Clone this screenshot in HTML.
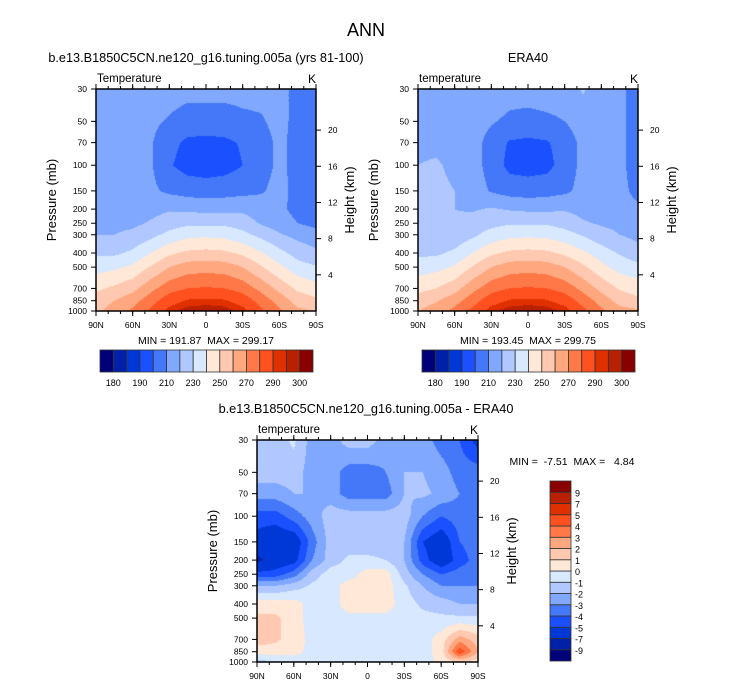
<!DOCTYPE html>
<html><head><meta charset="utf-8">
<style>
body{margin:0;background:#fff;font-family:"Liberation Sans",sans-serif;}
#root{position:relative;width:733px;height:686px;overflow:hidden;}
svg text{font-family:"Liberation Sans",sans-serif;white-space:pre;}
</style></head><body>
<div id="root">
<svg id="svg" width="733" height="686" xmlns="http://www.w3.org/2000/svg"></svg>
</div>
<script>
const lats=[90,75,60,45,30,15,0,-15,-30,-45,-60,-75,-90];
const plevs=[30,50,70,100,150,200,250,300,400,500,700,850,1000];
const tLevels=[180,185,190,200,210,220,230,240,250,260,270,280,290,295,300];
const tLabels=["180","190","210","230","250","270","290","300"];
const tLabelIdx=[0,2,4,6,8,10,12,14];
const dLevels=[-9,-7,-5,-4,-3,-2,-1,0,1,2,3,4,5,7,9];
const dLabels=["-9","-7","-5","-4","-3","-2","-1","0","1","2","3","4","5","7","9"];
const heightTicks=[20,16,12,8,4];
const xTickLabels=["90N","60N","30N","0","30S","60S","90S"];
const palette=["#000078","#0020a8","#0038d8","#1a50ff","#4478f8","#80a8ff","#b0c8ff","#d8e8ff","#ffe8d8","#ffc8b0","#ffa880","#ff7848","#ff5020","#e03000","#b82000","#880000"];
// model temperature (rows = plevs, cols = lats)
const modelT=[
[215,215,214,214,214,213,213,213,213,213,213,207,206],
[215,215,215,212,209,206,206,206,208,209,213,207,206],
[215,215,215,211,203,198,197,198,201,206,212,207,206],
[215,215,215,211,201,196,195,196,200,206,212,207,205],
[215,215,215,212,208,206,205,206,207,209,213,207,205],
[216,216,216,217,219,218,217,217,218,215,212,207,205],
[218,218,218,221,225,228,228,228,225,219,215,210,207],
[220,220,222,227,233,237,238,237,233,227,221,217,214],
[228,228,232,240,248,252,253,252,248,241,233,226,222],
[236,238,242,251,260,265,266,265,260,251,242,234,231],
[248,252,257,267,276,280,281,280,276,267,257,248,244],
[255,260,266,276,286,291,292,291,286,276,266,256,252],
[258,264,272,282,293,298,299,298,293,282,272,262,260]];
// ERA40 temperature
const eraT=[
[216,216,216,216,216,214,214,215,215,221,215,212,206],
[216,216,216,215,211,208,207,208,210,215,215,212,206],
[218,218,216,214,206,199,198,199,204,213,215,212,206],
[220,221,218,214,206,197,196,197,204,213,215,212,206],
[221,222,220,215,209,206,205,206,208,213,216,213,207],
[221,222,220,219,221,219,218,218,219,217,216,214,212],
[222,222,221,224,227,229,229,229,226,221,219,218,216],
[222,222,223,228,234,237,238,237,234,229,223,220,217],
[228,228,232,240,248,252,253,252,248,242,235,229,224],
[235,237,241,251,260,265,266,265,260,252,243,236,233],
[247,250,256,267,276,280,281,280,276,267,257,249,246],
[255,259,266,276,286,291,292,291,286,276,266,256,252],
[260,265,273,283,294,298,299,298,294,283,272,264,262]];
// difference
const diffT=[
[-1.5,-1.5,-0.8,-2.5,-2.5,-1.5,-1.5,-2.5,-2.5,-2.5,-3.5,-4,-5.5],
[-1.5,-1.5,-1.5,-2.5,-2.5,-3.5,-3.5,-3,-2,-2,-2.5,-3.5,-3.5],
[-2.5,-2.5,-2,-2,-2.5,-3.5,-3.5,-3.5,-2,-1.8,-2.2,-3,-3.5],
[-4.5,-4.5,-3.5,-2.5,-1.5,-1.5,-1.5,-1.5,-1.5,-3,-4,-3.5,-3.5],
[-5.5,-6,-6,-3.5,-1.5,-1.5,-1.5,-1.5,-2,-5,-6,-4,-3.5],
[-7.5,-6,-5.5,-3,-1.5,-0.8,-0.8,-1,-2,-4.5,-6,-4.5,-3.5],
[-4.5,-4.5,-3.5,-1.5,-0.5,-0.5,0.5,0.5,-1.5,-3,-4,-3.5,-3.5],
[-2,-2,-1.5,-0.8,-0.5,0.5,0.5,0.5,-0.8,-2,-3,-3,-3],
[0.5,0.5,0.5,-0.5,-0.5,0.5,0.5,0.5,-0.5,-1.2,-1.5,-2,-2],
[1.2,1.2,0.5,-0.5,-0.5,-0.3,-0.3,-0.3,-0.5,-0.7,-0.8,-0.8,-0.8],
[1.5,1.2,0.5,-0.3,-0.5,-0.5,-0.5,-0.5,-0.5,-0.5,0.5,2.5,1.5],
[0.5,0.5,0.3,-0.3,-0.5,-0.5,-0.5,-0.5,-0.5,-0.5,0.5,4.8,2],
[-1.5,-1,-0.5,-0.5,-1,-0.5,-0.3,-0.5,-1,-0.5,0.3,1,0.5]];

const NS="http://www.w3.org/2000/svg";
const svg=document.getElementById('svg');
function el(tag,attrs,parent){const e=document.createElementNS(NS,tag);for(const k in attrs)e.setAttribute(k,attrs[k]);(parent||svg).appendChild(e);return e;}
function txt(x,y,s,size,anchor,name,parent,extra){const t=el('text',Object.assign({x:x,y:y,'font-size':size,'text-anchor':anchor||'start',fill:'#000'},extra||{}),parent);t.textContent=s;


return t;}
function colorFor(v,levels){let i=0;while(i<levels.length&&v>=levels[i])i++;return palette[i];}
function bilinear(grid,fx,fy){const nx=grid[0].length-1,ny=grid.length-1;
fx=Math.max(0,Math.min(nx,fx));fy=Math.max(0,Math.min(ny,fy));
const i=Math.min(nx-1,Math.floor(fx)),j=Math.min(ny-1,Math.floor(fy));const tx=fx-i,ty=fy-j;
return grid[j][i]*(1-tx)*(1-ty)+grid[j][i+1]*tx*(1-ty)+grid[j+1][i]*(1-tx)*ty+grid[j+1][i+1]*tx*ty;}
const lp0=Math.log(30),lp1=Math.log(1000);
function panel(name,x0,x1,y0,y1,grid,levels,leftTitle){
 const g=el('g',{});
 
 
 const W=x1-x0,H=y1-y0;
 const ys=p=>y0+(Math.log(p)-lp0)/(lp1-lp0)*H;
 const fo=el('foreignObject',{x:x0,y:y0,width:W,height:H},g);
 const cv=document.createElement('canvas');cv.width=W;cv.height=H;
 
 
 fo.appendChild(cv);const ctx=cv.getContext('2d');
 const levY=plevs.map(ys);
 for(let py=0;py<H;py++){
  const Y=y0+py+0.5;let j=0;while(j<levY.length-2&&Y>levY[j+1])j++;
  const fy=j+(Y-levY[j])/(levY[j+1]-levY[j]);
  for(let px=0;px<W;px++){
   const lat=90-(px+0.5)/W*180;const fx=(90-lat)/15;
   ctx.fillStyle=colorFor(bilinear(grid,fx,fy),levels);ctx.fillRect(px,py,1,1);
  }}
 el('rect',{x:x0,y:y0,width:W,height:H,fill:'none',stroke:'#000','stroke-width':1.5},g);
 plevs.forEach(p=>{const y=ys(p);el('line',{x1:x0-5,x2:x0,y1:y,y2:y,stroke:'#000'},g);txt(x0-9,y+3,String(p),8.5,'end','pressure-tick-label',g);});
 heightTicks.forEach(h=>{const p=1000*Math.exp(-h/7);const y=ys(p);el('line',{x1:x1,x2:x1+5,y1:y,y2:y,stroke:'#000'},g);txt(x1+12,y+3,String(h),8.5,'start','height-tick-label',g);});
 xTickLabels.forEach((s,i)=>{const x=x0+i*W/6;el('line',{x1:x,x2:x,y1:y1,y2:y1+5,stroke:'#000'},g);el('line',{x1:x,x2:x,y1:y0,y2:y0-5,stroke:'#000'},g);txt(x,y1+17,s,8.5,'middle','x-tick-label',g);});
 for(let k=0;k<=18;k++){const x=x0+k*W/18;el('line',{x1:x,x2:x,y1:y1,y2:y1+3,stroke:'#000'},g);el('line',{x1:x,x2:x,y1:y0,y2:y0-3,stroke:'#000'},g);}
 txt(x0+1,y0-7,leftTitle,11.5,'start','field-label',g);
 txt(x1-4,y0-6,'K',12,'middle','units-label',g);
 txt(x0-40,(y0+y1)/2,'Pressure (mb)',13,'middle','y-axis-title',g,{transform:`rotate(-90 ${x0-40} ${(y0+y1)/2})`});
 txt(x1+38,(y0+y1)/2,'Height (km)',13,'middle','right-axis-title',g,{transform:`rotate(-90 ${x1+38} ${(y0+y1)/2})`});
 return g;
}
txt(366,36,'ANN',18,'middle','figure-title');
txt(206,62,'b.e13.B1850C5CN.ne120_g16.tuning.005a (yrs 81-100)',12.7,'middle','model-title');
txt(528,62,'ERA40',12.7,'middle','obs-title');
txt(366,413,'b.e13.B1850C5CN.ne120_g16.tuning.005a - ERA40',12.7,'middle','diff-title');
panel('model-panel',96,316,89,311,modelT,tLevels,'Temperature');
panel('era40-panel',418,638,89,311,eraT,tLevels,'temperature');
panel('diff-panel',257,478,440,662,diffT,dLevels,'temperature');
txt(206,344,'MIN = 191.87  MAX = 299.17',10.5,'middle','model-min-max');
txt(528,344,'MIN = 193.45  MAX = 299.75',10.5,'middle','era40-min-max');
txt(572,465,'MIN =  -7.51  MAX =   4.84',10.5,'middle','diff-min-max');
function hbar(name,x0,x1,y0,y1){const g=el('g',{});
 
 
 const w=(x1-x0)/palette.length;
 palette.forEach((c,i)=>{const r=el('rect',{x:x0+i*w,y:y0,width:w,height:y1-y0,fill:c,stroke:'#333','stroke-width':0.8},g);
  
  });
 tLabels.forEach((s,k)=>{const i=tLabelIdx[k];txt(x0+(i+1)*w,y1+14,s,9,'middle','colorbar-label',g);});}
hbar('model-colorbar',100,313,350,372);
hbar('era40-colorbar',422,635,350,372);
(function(){const g=el('g',{});
 
 
 const x0=550,x1=571,y0=481,y1=661,h=(y1-y0)/palette.length;
 palette.forEach((c,i)=>{const r=el('rect',{x:x0,y:y1-(i+1)*h,width:x1-x0,height:h,fill:c,stroke:'#333','stroke-width':0.8},g);
  
  });
 dLabels.forEach((s,i)=>{txt(x1+4,y1-(i+1)*h+4,s,9,'start','colorbar-label',g);});
})();
</script>
</body></html>
